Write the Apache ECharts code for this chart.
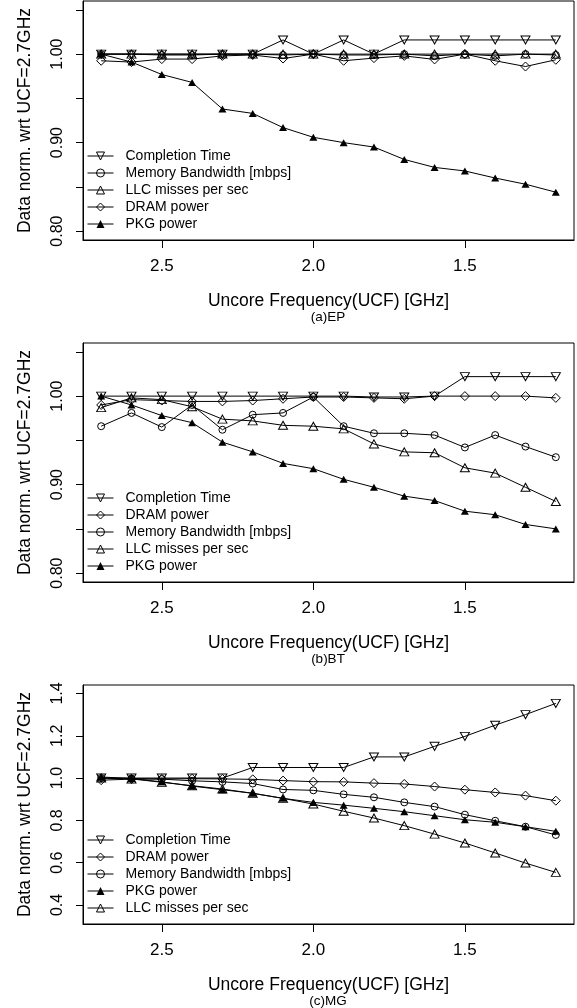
<!DOCTYPE html>
<html>
<head>
<meta charset="utf-8">
<script src="https://cdn.jsdelivr.net/npm/echarts@6/dist/echarts.min.js"></script>
<style>
  html, body { margin: 0; padding: 0; background: #fff; }
  #main { width: 577px; height: 1008px; }
</style>
</head>
<body>
<div id="main"></div>
<script>
// uncore frequency (GHz), same for all three panels
const freq = [2.7, 2.6, 2.5, 2.4, 2.3, 2.2, 2.1, 2.0, 1.9, 1.8, 1.7, 1.6, 1.5, 1.4, 1.3, 1.2];

// (a) EP
const epCompletion = [1, 1, 1, 1, 1, 1, 1.016, 1, 1.016, 1, 1.016, 1.016, 1.016, 1.016, 1.016, 1.016];
const epMemBw = [1, 1, 0.999, 0.999, 1, 1, 0.999, 1, 0.999, 0.999, 1, 0.998, 1, 0.998, 1, 0.999];
const epLlc = [1, 1, 1, 1, 1, 1, 1, 1, 1, 1, 1, 1, 1, 1, 1, 1];
const epDram = [0.9925, 0.991, 0.9944, 0.9944, 0.998, 0.999, 0.995, 1.0, 0.9925, 0.9955, 0.998, 0.994, 1.0, 0.9925, 0.986, 0.9936];
const epPkg = [1.0, 0.991, 0.977, 0.968, 0.938, 0.933, 0.917, 0.906, 0.900, 0.895, 0.881, 0.872, 0.868, 0.860, 0.853, 0.844];

// (b) BT
const btCompletion = [1, 1, 1, 1, 1, 1, 1, 1, 1, 0.999, 0.999, 1, 1.022, 1.022, 1.022, 1.022];
const btDram = [0.99, 0.996, 0.995, 0.994, 0.994, 0.995, 0.997, 0.999, 0.999, 0.998, 0.997, 1.0, 1.0, 1.0, 1.0, 0.998];
const btMemBw = [0.966, 0.981, 0.965, 0.99, 0.962, 0.979, 0.981, 0.999, 0.966, 0.958, 0.958, 0.956, 0.942, 0.956, 0.943, 0.931];
const btLlc = [0.987, 0.998, 0.996, 0.988, 0.974, 0.972, 0.967, 0.966, 0.963, 0.946, 0.937, 0.936, 0.919, 0.913, 0.897, 0.881];
const btPkg = [1.0, 0.99, 0.978, 0.97, 0.948, 0.937, 0.924, 0.918, 0.906, 0.897, 0.887, 0.882, 0.870, 0.866, 0.855, 0.850];

// (c) MG
const mgCompletion = [1, 1, 1, 1, 1, 1.05, 1.05, 1.05, 1.05, 1.10, 1.10, 1.15, 1.197, 1.25, 1.30, 1.353];
const mgDram = [0.99, 0.995, 0.996, 0.997, 0.996, 0.994, 0.988, 0.983, 0.982, 0.976, 0.972, 0.96, 0.945, 0.932, 0.917, 0.893];
const mgMemBw = [1.0, 0.998, 0.995, 0.987, 0.982, 0.974, 0.946, 0.942, 0.923, 0.909, 0.885, 0.865, 0.827, 0.798, 0.77, 0.731];
const mgPkg = [1.005, 0.998, 0.982, 0.962, 0.945, 0.928, 0.904, 0.885, 0.872, 0.857, 0.841, 0.822, 0.803, 0.791, 0.77, 0.748];
const mgLlc = [1.0, 0.996, 0.98, 0.964, 0.948, 0.928, 0.904, 0.877, 0.843, 0.811, 0.775, 0.735, 0.693, 0.646, 0.598, 0.554];

// axis ticks and labels
const xTicks = [1.5, 2.0, 2.5];
const yTicksAB = [0.8, 0.85, 0.9, 0.95, 1.0, 1.05];
const yLabelsAB = [0.8, 0.9, 1.0];
const yTicksC = [0.4, 0.6, 0.8, 1.0, 1.2, 1.4];
const captions = ['(a)EP', '(b)BT', '(c)MG'];

const NAME_CT = 'Completion Time';
const NAME_MB = 'Memory Bandwidth [mbps]';
const NAME_LLC = 'LLC misses per sec';
const NAME_DRAM = 'DRAM power';
const NAME_PKG = 'PKG power';

const FONT = 'Liberation Sans, Arial, Helvetica, sans-serif';
const hollow = { color: 'rgba(255,255,255,0)', borderColor: '#000', borderWidth: 1 };
const marks = {};
marks[NAME_CT] = { symbol: 'path://M0,0L2,0L1,1.7Z', symbolSize: [9, 8], itemStyle: hollow };
marks[NAME_MB] = { symbol: 'circle', symbolSize: 7, itemStyle: hollow };
marks[NAME_LLC] = { symbol: 'triangle', symbolSize: [9, 8], itemStyle: hollow };
marks[NAME_DRAM] = { symbol: 'diamond', symbolSize: [9, 9], itemStyle: hollow };
marks[NAME_PKG] = { symbol: 'triangle', symbolSize: [8, 7], itemStyle: { color: '#000' } };

const panels = [
  { legend: [NAME_CT, NAME_MB, NAME_LLC, NAME_DRAM, NAME_PKG],
    data: [epCompletion, epMemBw, epLlc, epDram, epPkg] },
  { legend: [NAME_CT, NAME_DRAM, NAME_MB, NAME_LLC, NAME_PKG],
    data: [btCompletion, btDram, btMemBw, btLlc, btPkg] },
  { legend: [NAME_CT, NAME_DRAM, NAME_MB, NAME_PKG, NAME_LLC],
    data: [mgCompletion, mgDram, mgMemBw, mgPkg, mgLlc] }
];

const gridTop = [1, 343, 685];
const grids = [], xAxes = [], yAxes = [], legends = [], titles = [], series = [];

panels.forEach((p, i) => {
  grids.push({ left: 83, width: 491, top: gridTop[i], height: 239,
    show: true, borderColor: '#000', borderWidth: 1, backgroundColor: 'transparent' });

  xAxes.push({
    type: 'value', gridIndex: i, inverse: true, min: 1.14, max: 2.76,
    name: 'Uncore Frequency(UCF) [GHz]', nameLocation: 'middle', nameGap: 52,
    nameTextStyle: { fontSize: 17.5, color: '#000', fontFamily: FONT },
    splitLine: { show: false },
    axisLine: { onZero: false, lineStyle: { color: '#000', width: 1 } },
    axisTick: { customValues: xTicks, length: 8, lineStyle: { color: '#000' } },
    axisLabel: { customValues: xTicks, formatter: v => v.toFixed(1), fontSize: 17,
      color: '#000', fontFamily: FONT, margin: 18 }
  });

  const isC = i === 2;
  yAxes.push({
    type: 'value', gridIndex: i,
    min: isC ? 0.31 : 0.79, max: isC ? 1.44 : 1.06,
    name: 'Data norm. wrt UCF=2.7GHz', nameLocation: 'middle', nameGap: 49,
    nameTextStyle: { fontSize: 17.5, color: '#000', fontFamily: FONT },
    splitLine: { show: false },
    axisLine: { onZero: false, lineStyle: { color: '#000', width: 1 } },
    axisTick: { customValues: isC ? yTicksC : yTicksAB, length: 7, lineStyle: { color: '#000' } },
    axisLabel: { customValues: isC ? yTicksC : yLabelsAB, rotate: 90,
      formatter: v => isC ? v.toFixed(1) : v.toFixed(2),
      fontSize: 16, color: '#000', fontFamily: FONT, margin: 17 }
  });

  legends.push({
    data: p.legend, orient: 'vertical', left: 87, top: gridTop[i] + 148,
    padding: 0, itemWidth: 26, itemHeight: 10, itemGap: 3,
    selectedMode: false,
    lineStyle: { width: 1 },
    itemStyle: { borderWidth: 1 },
    textStyle: { fontSize: 14, color: '#000', fontFamily: FONT, lineHeight: 14, padding: [0, 0, 0, 7] }
  });

  titles.push({
    text: captions[i], left: 328, top: gridTop[i] + 309, textAlign: 'center', padding: 0,
    textStyle: { fontSize: 13.5, fontWeight: 'normal', color: '#000', fontFamily: FONT }
  });

  p.legend.forEach((name, k) => {
    const vals = p.data[k];
    series.push(Object.assign({
      name: name, type: 'line', xAxisIndex: i, yAxisIndex: i,
      data: freq.map((f, j) => [f, vals[j]]),
      showAllSymbol: true, animation: false,
      lineStyle: { color: '#000', width: 1 }
    }, marks[name]));
  });
});

const chart = echarts.init(document.getElementById('main'), null, { renderer: 'canvas' });
chart.setOption({
  backgroundColor: '#fff',
  animation: false,
  textStyle: { fontFamily: FONT },
  title: titles,
  grid: grids,
  xAxis: xAxes,
  yAxis: yAxes,
  legend: legends,
  series: series
});
</script>
</body>
</html>
